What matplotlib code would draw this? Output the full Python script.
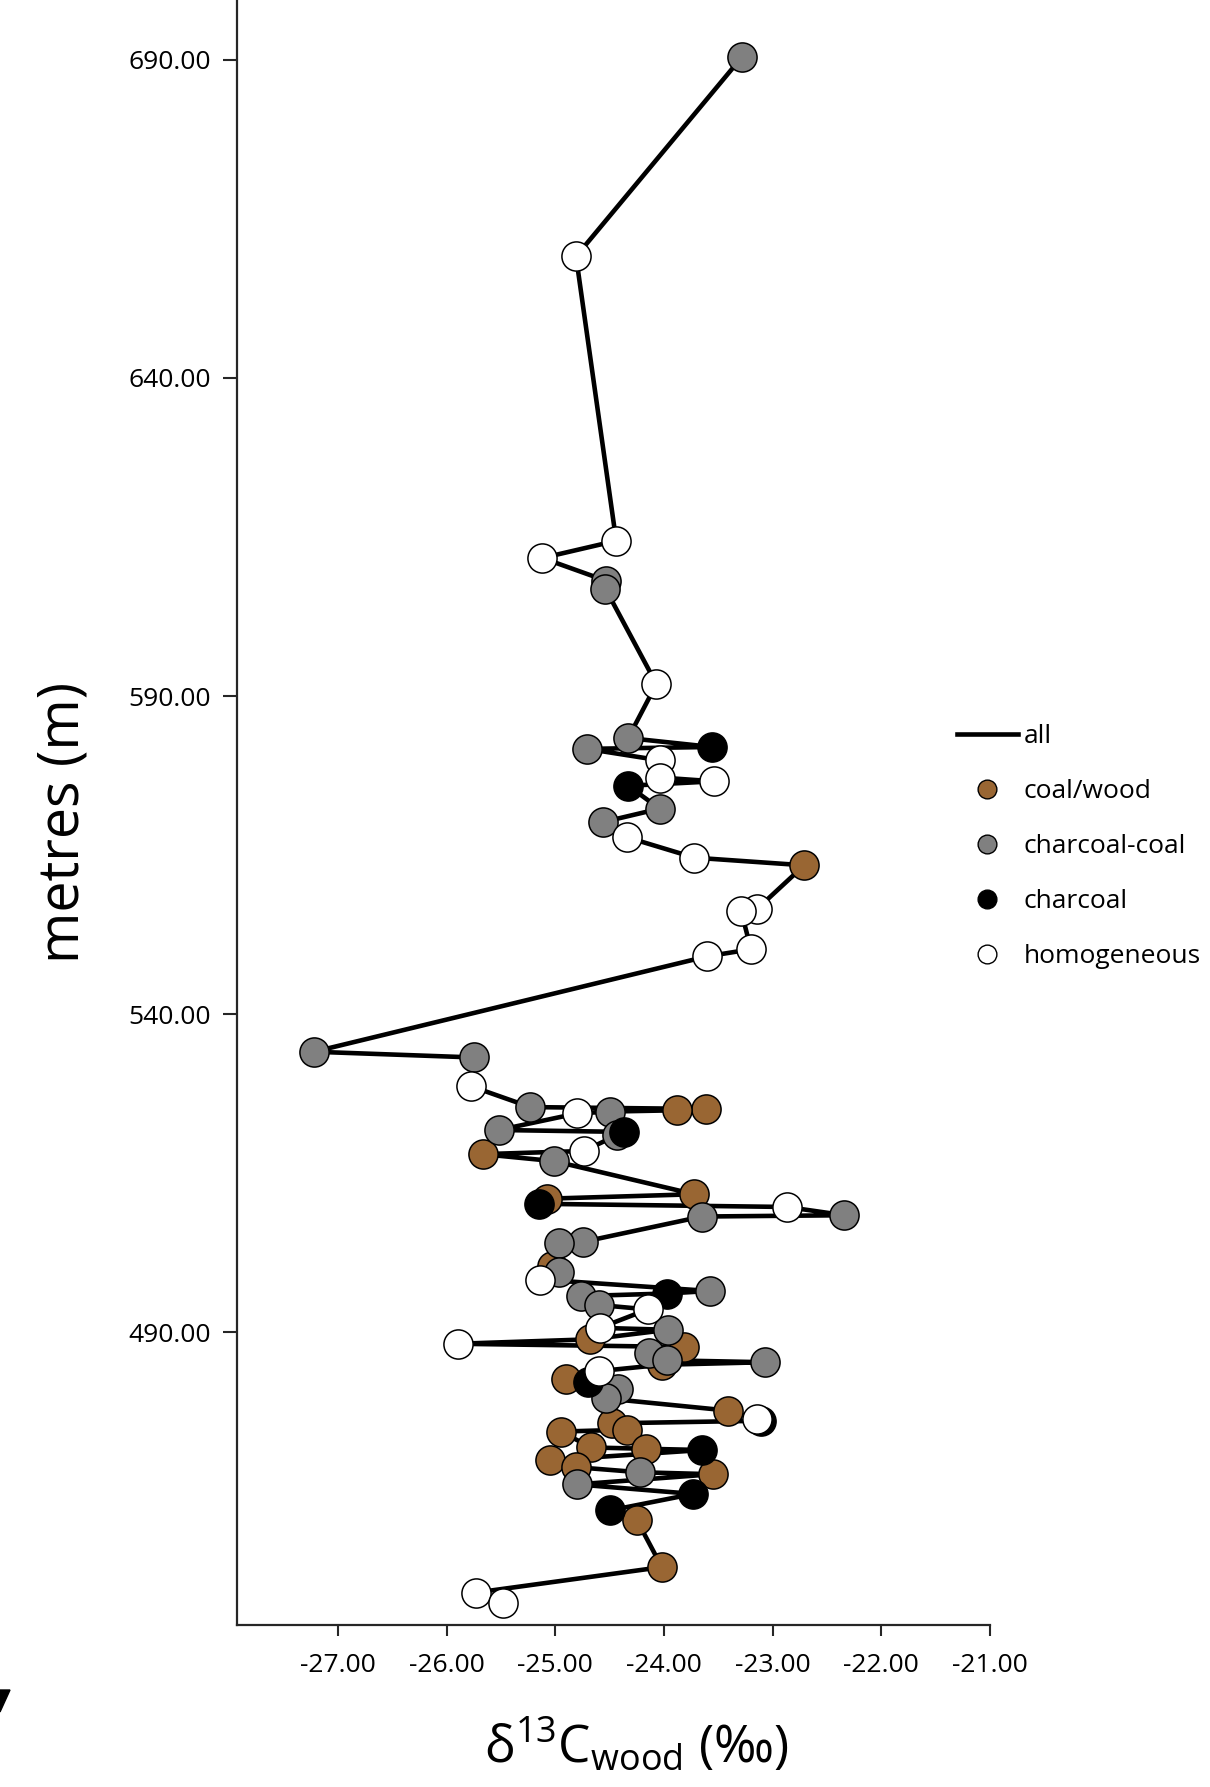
import matplotlib
matplotlib.use('agg')
import matplotlib.pyplot as plt
from matplotlib.lines import Line2D
from matplotlib.patches import Polygon

plt.rcParams['font.family'] = ['Open Sans', 'DejaVu Sans']
plt.rcParams['mathtext.fontset'] = 'custom'
plt.rcParams['mathtext.rm'] = 'Open Sans'
plt.rcParams['mathtext.it'] = 'Open Sans:italic'

# samples ordered by depth (top of section first)
metres = [690.5, 659.1, 614.4, 611.7, 608.1, 606.9, 591.9, 583.4, 582.0, 581.7,
          579.9, 577.2, 576.6, 575.9, 572.3, 570.2, 567.8, 564.6, 563.4, 556.6,
          556.2, 550.2, 549.1, 534.1, 533.2, 528.7, 525.4, 525.1, 524.9, 524.7,
          524.4, 521.8, 521.5, 521.0, 518.5, 518.0, 516.9, 511.7, 511.0, 510.2,
          509.7, 508.4, 508.2, 504.2, 504.0, 500.4, 499.5, 498.3, 496.5, 496.1,
          495.7, 494.3, 493.6, 490.7, 490.4, 488.9, 488.2, 487.7, 486.7, 485.6,
          485.3, 484.9, 483.9, 482.7, 482.2, 481.1, 479.6, 477.7, 476.3, 476.1,
          475.7, 474.7, 474.4, 471.9, 471.7, 471.5, 469.9, 468.8, 468.0, 467.7,
          466.1, 464.6, 462.0, 460.5, 453.1, 449.1, 447.5]
d13c = [-23.28, -24.81, -24.44, -25.12, -24.53, -24.54, -24.07, -24.33, -23.56, -24.71,
        -24.04, -24.04, -23.54, -24.33, -24.04, -24.56, -24.34, -23.72, -22.71, -23.14,
        -23.29, -23.20, -23.60, -27.22, -25.75, -25.78, -25.23, -23.61, -23.88, -24.50,
        -24.80, -25.52, -24.37, -24.43, -24.74, -25.67, -25.01, -23.72, -25.08, -25.15,
        -22.87, -22.34, -23.65, -24.75, -24.97, -25.03, -24.97, -25.14, -23.58, -23.97,
        -24.76, -24.60, -24.15, -24.59, -23.96, -24.68, -25.90, -23.82, -24.14, -23.97,
        -23.07, -24.02, -24.60, -24.90, -24.70, -24.42, -24.53, -23.41, -23.14, -23.11,
        -24.48, -24.34, -24.95, -24.67, -24.17, -23.65, -25.05, -24.81, -24.22, -23.55,
        -24.80, -23.73, -24.50, -24.25, -24.02, -25.73, -25.48]
# B = coal/wood, G = charcoal-coal, K = charcoal, W = homogeneous
kind = ['G', 'W', 'W', 'W', 'G', 'G', 'W', 'G', 'K', 'G',
        'W', 'W', 'W', 'K', 'G', 'G', 'W', 'W', 'B', 'W',
        'W', 'W', 'W', 'G', 'G', 'W', 'G', 'B', 'B', 'G',
        'W', 'G', 'K', 'G', 'W', 'B', 'G', 'B', 'B', 'K',
        'W', 'G', 'G', 'G', 'G', 'B', 'G', 'W', 'G', 'K',
        'G', 'G', 'W', 'W', 'G', 'B', 'W', 'B', 'G', 'G',
        'G', 'B', 'W', 'B', 'K', 'G', 'G', 'B', 'W', 'K',
        'B', 'B', 'B', 'B', 'B', 'K', 'B', 'B', 'G', 'B',
        'G', 'K', 'K', 'B', 'B', 'W', 'W']

kinds = ['B', 'G', 'K', 'W']
kind_labels = ['coal/wood', 'charcoal-coal', 'charcoal', 'homogeneous']
kind_colors = ['#996633', '#808080', '#000000', '#ffffff']

x_ticks = [-27, -26, -25, -24, -23, -22, -21]
y_ticks = [490, 540, 590, 640, 690]

fig = plt.figure(figsize=(12.1, 17.87), dpi=100)
ax = fig.add_axes([237 / 1210, 1 - 1625 / 1787, 753 / 1210, 1625 / 1787])

ax.plot(d13c, metres, '-', color='black', linewidth=3.3, zorder=2)
for k, c in zip(kinds, kind_colors):
    xs = [x for x, kk in zip(d13c, kind) if kk == k]
    ys = [y for y, kk in zip(metres, kind) if kk == k]
    ax.plot(xs, ys, 'o', ls='none', markersize=21, markerfacecolor=c,
            markeredgecolor='black', markeredgewidth=1.1, zorder=3)

ax.set_xlim(-27.93, -21)
ax.set_ylim(444, 699.4)
ax.set_xticks(x_ticks)
ax.set_xticklabels(['%.2f' % v for v in x_ticks])
ax.set_yticks(y_ticks)
ax.set_yticklabels(['%.2f' % v for v in y_ticks])
ax.tick_params(axis='both', labelsize=19, length=10, width=1.5, color='#262626',
               direction='out', pad=9)
ax.tick_params(axis='x', length=8, pad=12)

for side in ['top', 'right']:
    ax.spines[side].set_visible(False)
for side in ['left', 'bottom']:
    ax.spines[side].set_linewidth(1.6)
    ax.spines[side].set_color('#262626')

ax.set_ylabel('metres (m)', fontsize=40)
ax.yaxis.set_label_coords(-0.192, 0.494)
ax.set_xlabel(r'δ$^{\mathrm{13}}$C$_{\mathrm{wood}}$ (‰)', fontsize=37)
ax.xaxis.set_label_coords(0.530, -0.056)

handles = [Line2D([], [], color='black', linewidth=3.3)]
for c in kind_colors:
    handles.append(Line2D([], [], ls='none', marker='o', markersize=13.5,
                          markerfacecolor=c, markeredgecolor='black', markeredgewidth=1))
fig.legend(handles, ['all'] + kind_labels, loc='center left',
           bbox_to_anchor=(957 / 1210, 1 - 846.5 / 1787), bbox_transform=fig.transFigure,
           frameon=False, fontsize=19, handlelength=2.3, handletextpad=0.22,
           labelspacing=1.14, borderpad=0, borderaxespad=0)

# cut-off stroke from the neighbouring panel
fig.patches.append(Polygon([(0, 1 - 1690 / 1787), (10 / 1210, 1 - 1690 / 1787), (0, 1 - 1712 / 1787)],
                           closed=True, color='black', transform=fig.transFigure))

fig.savefig('out.png', dpi=100)
